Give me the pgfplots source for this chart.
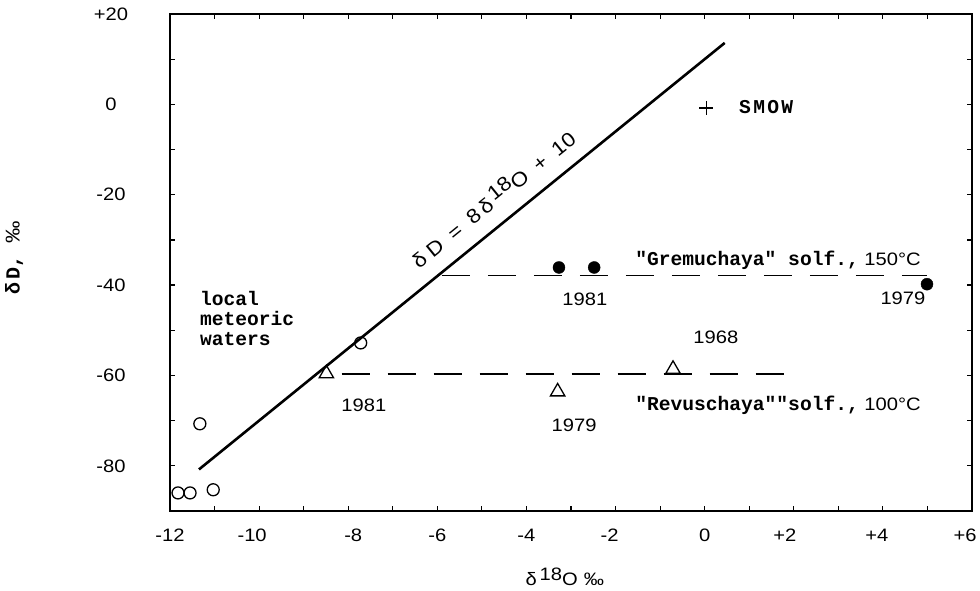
\documentclass[border=0pt]{standalone}
\usepackage{fontspec}
\setmainfont{Liberation Sans}[FakeStretch=1.12]
\setmonofont{Liberation Mono}
\usepackage{pgfplots}
\pgfplotsset{compat=1.18}
\newcommand{\tw}{\fontsize{19.6bp}{20bp}\selectfont\ttfamily\bfseries}
\newcommand{\sff}{\fontsize{18bp}{21bp}\selectfont\rmfamily}
\newcommand{\lsh}[2]{\hspace*{#1}#2}
\newcommand{\rsh}[2]{#2\hspace*{#1}}
\begin{document}
\begin{tikzpicture}[font=\sff]
\path[use as bounding box] (0,0) rectangle (980bp,591bp);
\begin{axis}[
  at={(170bp,80bp)}, anchor=south west,
  width=802bp, height=497bp, scale only axis,
  xmin=-12, xmax=6, ymin=-90, ymax=20,
  xtick={-12,-10,...,6}, minor xtick={-11,-9,...,5},
  ytick={-80,-60,...,20}, minor ytick={-90,-70,...,10},
  xticklabels={-12,\rsh{14bp}{-10},\lsh{10bp}{-8},-6,-4,\rsh{12bp}{-2},0,\rsh{18bp}{+2},\rsh{12bp}{+4},\rsh{14bp}{+6}},
  yticklabels={-80,-60,-40,-20,0,+20},
  xtick pos=both, ytick pos=both,
  xticklabel pos=lower, yticklabel pos=left,
  tick align=inside, major tick length=5bp, minor tick length=5bp,
  tick style={line width=1.2bp, black},
  axis line style={line width=1.5bp},
  tick label style={font=\sff},
  xticklabel style={anchor=center, yshift=-24bp},
  yticklabel style={anchor=center, xshift=-59bp},
  clip=false,
]
% meteoric water line
\addplot[line width=2.6bp] coordinates {(-11.35,-80.8) (0.45,13.6)};
% dashed lines
\addplot[line width=1.2bp, dash pattern=on 28bp off 18bp] coordinates {(-5.9,-37.8) (5.0,-37.8)};
\addplot[line width=1.2bp, dash pattern=on 28bp off 18bp] coordinates {(-8.15,-59.7) (2.07,-59.7)};
% local meteoric waters
\addplot[only marks, mark=o, mark size=6bp, mark options={line width=1.3bp}] coordinates {
  (-11.33,-70.7) (-11.82,-86.0) (-11.55,-86.0) (-11.03,-85.3) (-7.72,-52.8)};
% Gremuchaya
\addplot[only marks, mark=*, mark size=6bp, mark options={fill=black}] coordinates {
  (-3.27,-36.1) (-2.48,-36.1) (4.99,-39.8)};
% Revuschaya
\addplot[only marks, mark=triangle, mark size=8.3bp, mark options={line width=1.3bp}] coordinates {
  (-8.49,-59.6) (-3.30,-63.6) (-0.71,-58.6)};
% SMOW
\addplot[only marks, mark=+, mark size=7bp, mark options={line width=1.3bp}] coordinates {(0.04,-0.8)};

\node[inner sep=0, anchor=west, font=\tw\addfontfeature{LetterSpace=12}] at (axis cs:0.77,-0.6) {SMOW};
\node[inner sep=0, anchor=west] at (axis cs:-1.56,-34.4) {{\tw "Gremuchaya" solf.,} 150°C};
\node[inner sep=0, anchor=west] at (axis cs:-1.56,-66.5) {{\tw "Revuschaya""solf.,} 100°C};
\node[inner sep=0] at (axis cs:-2.69,-43.1) {1981};
\node[inner sep=0] at (axis cs:4.45,-42.9) {1979};
\node[inner sep=0] at (axis cs:0.25,-51.5) {1968};
\node[inner sep=0] at (axis cs:-7.65,-66.5) {1981};
\node[inner sep=0] at (axis cs:-2.93,-71.0) {1979};
\node[inner sep=0, anchor=west, align=left, font=\tw] at (axis cs:-11.33,-47.3) {local\\meteoric\\waters};
\node[inner sep=0, rotate=39, font=\fontsize{20bp}{22bp}\selectfont] at (axis cs:-4.77,-20.7) {δ\;D\;\;=\;\;8\,δ\,\raisebox{6bp}{18}O\;\;+\;\;10};
\node[inner sep=0, rotate=90, font=\fontsize{20bp}{22bp}\selectfont\ttfamily\bfseries] at (axis cs:-15.5,-34) {δ\,D,\;\;{\rmfamily\mdseries ‰}};
\node[inner sep=0] at (axis cs:-3.14,-104.6) {δ\,\raisebox{5bp}{18}O\,\,‰};
\end{axis}
\end{tikzpicture}
\end{document}
